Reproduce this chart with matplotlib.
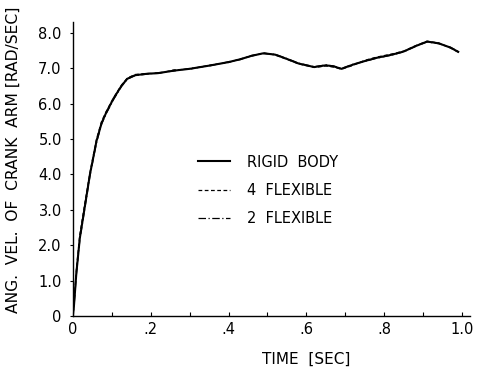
"""
Angular velocity of the crank arm against time, rigid vs flexible models.
"""

import matplotlib.pyplot as plt
import numpy as np

# values
time = [0.0, 0.003, 0.009, 0.018, 0.031, 0.044, 0.061, 0.074, 0.086, 0.105,
        0.125, 0.14, 0.16, 0.19, 0.22, 0.26, 0.30, 0.35, 0.40, 0.43,
        0.46, 0.49, 0.52, 0.55, 0.58, 0.62, 0.65, 0.67, 0.69, 0.72,
        0.75, 0.78, 0.82, 0.85, 0.88, 0.91, 0.94, 0.97, 0.99]

rigid = [0.0, 0.3, 1.2, 2.2, 3.1, 4.0, 4.95, 5.45, 5.75, 6.15,
         6.5, 6.7, 6.8, 6.84, 6.86, 6.93, 6.98, 7.07, 7.17, 7.25,
         7.35, 7.42, 7.38, 7.26, 7.13, 7.03, 7.08, 7.05, 6.98, 7.1,
         7.2, 7.29, 7.38, 7.47, 7.62, 7.75, 7.7, 7.58, 7.46]

flex4 = [0.0, 0.35, 1.3, 2.3, 3.2, 4.05, 5.0, 5.5, 5.78, 6.17,
         6.52, 6.72, 6.82, 6.85, 6.85, 6.95, 6.97, 7.08, 7.16, 7.26,
         7.34, 7.43, 7.37, 7.25, 7.12, 7.02, 7.06, 7.03, 6.97, 7.08,
         7.22, 7.31, 7.4, 7.48, 7.63, 7.76, 7.71, 7.57, 7.45]

flex2 = [0.0, 0.25, 1.15, 2.15, 3.05, 3.95, 4.9, 5.42, 5.72, 6.12,
         6.48, 6.69, 6.79, 6.83, 6.87, 6.92, 6.99, 7.06, 7.18, 7.24,
         7.36, 7.41, 7.39, 7.27, 7.14, 7.04, 7.09, 7.06, 6.99, 7.11,
         7.19, 7.28, 7.37, 7.46, 7.61, 7.74, 7.69, 7.59, 7.47]

xticks = [0, 0.2, 0.4, 0.6, 0.8, 1.0]
xticklabels = ["0", ".2", ".4", ".6", ".8", "1.0"]
yticks = [0, 1, 2, 3, 4, 5, 6, 7, 8]
yticklabels = ["0", "1.0", "2.0", "3.0", "4.0", "5.0", "6.0", "7.0", "8.0"]

plt.rcParams["font.family"] = "DejaVu Sans"

fig = plt.figure(figsize=(4.79, 3.68), dpi=100)
ax = fig.add_axes([0.152, 0.141, 0.829, 0.799])

ax.plot(time, rigid, color="black", lw=1.5, ls="-", label="RIGID  BODY")
ax.plot(time, flex4, color="black", lw=0.9, ls=(0, (3, 2)), label="4  FLEXIBLE")
ax.plot(time, flex2, color="black", lw=0.9, ls=(0, (6, 2, 1, 2)), label="2  FLEXIBLE")

ax.set_xlim(0, 1.02)
ax.set_ylim(0, 8.3)

ax.spines["top"].set_visible(False)
ax.spines["right"].set_visible(False)
ax.spines["left"].set_linewidth(1.0)
ax.spines["bottom"].set_linewidth(1.0)

ax.set_xticks(xticks)
ax.set_xticklabels(xticklabels)
ax.set_xticks(np.arange(0.1, 1.01, 0.2), minor=True)
ax.set_yticks(yticks)
ax.set_yticklabels(yticklabels)

ax.tick_params(axis="x", which="both", direction="in", length=3, width=0.8,
               labelsize=10.5, pad=4)
ax.tick_params(axis="y", direction="out", length=2, width=0.8,
               labelsize=10.5, pad=6)

ax.set_ylabel("ANG.  VEL.  OF  CRANK  ARM [RAD/SEC]", fontsize=11.2)
ax.yaxis.set_label_coords(-0.132, 0.53)
ax.set_xlabel("TIME  [SEC]", fontsize=11)
ax.xaxis.set_label_coords(0.587, -0.12)

ax.legend(loc="upper left", bbox_to_anchor=(0.282, 0.594), frameon=False,
          handlelength=2.2, handletextpad=1.15, labelspacing=0.9,
          fontsize=10.5)

plt.savefig("out.png", dpi=100)
